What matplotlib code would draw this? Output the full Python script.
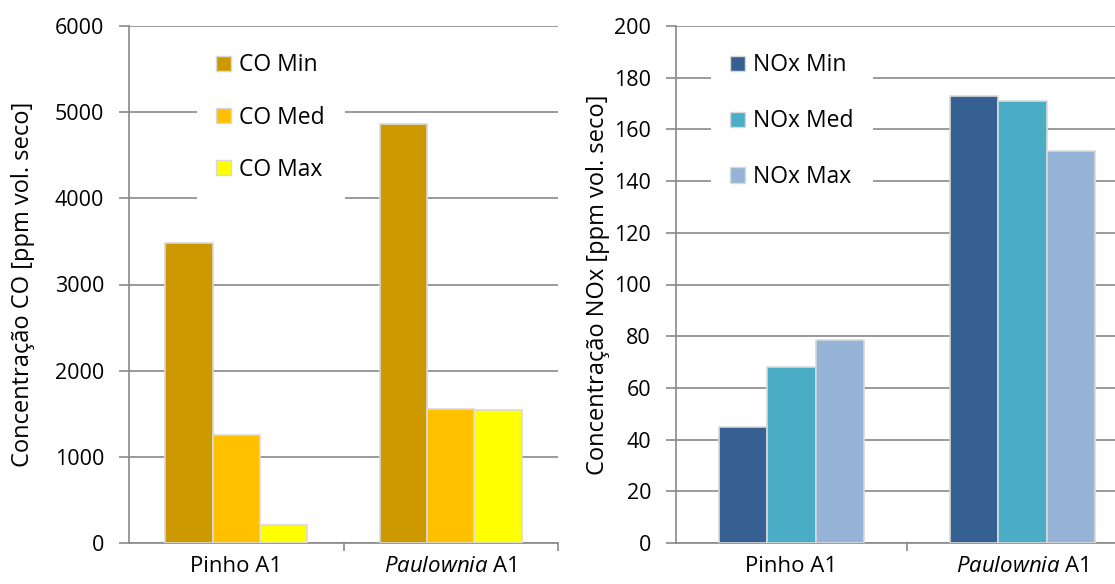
import matplotlib
matplotlib.use("Agg")
import matplotlib.pyplot as plt
import numpy as np
from matplotlib.patches import Patch

plt.rcParams['font.family'] = ['Open Sans', 'DejaVu Sans']
plt.rcParams['mathtext.fontset'] = 'custom'
plt.rcParams['mathtext.rm'] = 'Open Sans'
plt.rcParams['mathtext.it'] = 'Open Sans:italic'

categories = ['Pinho A1', r'$\mathit{Paulownia}$ A1']

co_labels = ['CO Min', 'CO Med', 'CO Max']
co_min = [3480, 4860]
co_med = [1250, 1560]
co_max = [205, 1540]
co_colors = ['#CC9900', '#FFC000', '#FFFF00']

nox_labels = ['NOx Min', 'NOx Med', 'NOx Max']
nox_min = [45, 173]
nox_med = [68, 171]
nox_max = [78.5, 151.5]
nox_colors = ['#376092', '#4BACC6', '#95B3D7']

co_ticks = [0, 1000, 2000, 3000, 4000, 5000, 6000]
nox_ticks = [0, 20, 40, 60, 80, 100, 120, 140, 160, 180, 200]

W, H = 1115, 584
fig = plt.figure(figsize=(W / 100, H / 100), dpi=100)

ax1 = fig.add_axes([129 / W, (H - 543) / H, 429 / W, 517 / H])
ax2 = fig.add_axes([676 / W, (H - 543) / H, 462 / W, 517 / H])

grid_c = '#898989'
FS_TICK = 15.5
FS_XLAB = 16
FS_TEXT = 16.5
FS_YLAB = 17


def draw(ax, series, labels, colors, ticks, ylabel, bw, leg_anchor, ylab_x, lspace):
    x = np.arange(len(categories))
    n = len(series)
    for i, (vals, lab, col) in enumerate(zip(series, labels, colors)):
        ax.bar(x + (i - (n - 1) / 2) * bw, vals, bw, color=col, label=lab,
               edgecolor='#d9d9d9', linewidth=1.2, zorder=3)
    ax.set_xlim(-0.5, len(categories) - 0.5)
    ax.set_ylim(ticks[0], ticks[-1])
    ax.set_yticks(ticks)
    ax.set_yticklabels([str(t) for t in ticks])
    ax.yaxis.grid(True, color=grid_c, linewidth=1.2, zorder=0)
    ax.set_axisbelow(True)
    ax.set_xticks(x)
    ax.set_xticklabels(categories)
    ax.set_xticks([0.5, 1.5], minor=True)
    ax.tick_params(axis='x', which='major', length=0, pad=9, labelsize=FS_XLAB)
    ax.tick_params(axis='x', which='minor', length=6, width=1.2, color=grid_c)
    ax.tick_params(axis='y', length=7, width=1.2, color=grid_c, pad=11, labelsize=FS_TICK)
    for s in ['top', 'right']:
        ax.spines[s].set_visible(False)
    for s in ['left', 'bottom']:
        ax.spines[s].set_color(grid_c)
        ax.spines[s].set_linewidth(1.2)
    ax.set_ylabel(ylabel, fontsize=FS_YLAB)
    ax.yaxis.set_label_coords(ylab_x, 0.5)
    handles = [Patch(facecolor=c, edgecolor='#d9d9d9', linewidth=1.0) for c in colors]
    leg = ax.legend(handles, labels, loc='upper left', bbox_to_anchor=leg_anchor,
                    fontsize=FS_TEXT, frameon=True, fancybox=False, framealpha=1,
                    edgecolor='none', facecolor='white', handlelength=0.65,
                    handleheight=0.65, handletextpad=0.35, labelspacing=lspace,
                    borderpad=0.85, borderaxespad=0)
    leg.set_zorder(5)


draw(ax1, [co_min, co_med, co_max], co_labels, co_colors, co_ticks,
     'Concentração CO [ppm vol. seco]', 0.22,
     ((197 - 129) / 429, (543 - 34) / 517), (35 - 129) / 429, 1.23)
draw(ax2, [nox_min, nox_med, nox_max], nox_labels, nox_colors, nox_ticks,
     'Concentração NOx [ppm vol. seco]', 0.21,
     ((711 - 676) / 462, (543 - 34) / 517), (610 - 676) / 462, 1.39)

fig.savefig('out.png', dpi=100)
